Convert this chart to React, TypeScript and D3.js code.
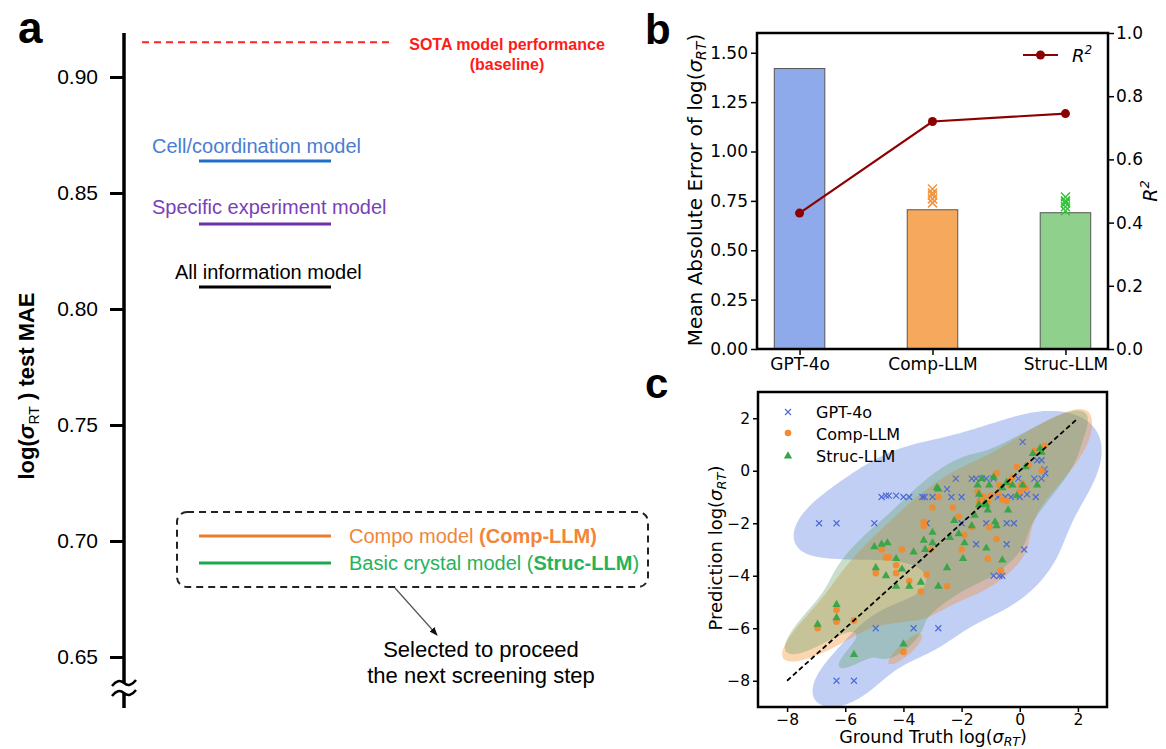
import React, { useEffect, useRef } from 'react';
import * as d3 from 'd3';

// ---- panel a: test MAE of the model variants
const modelNames = ['SOTA model performance', 'Cell/coordination model', 'Specific experiment model', 'All information model', 'Compo model', 'Basic crystal model'];
const modelMae = [0.915, 0.8638, 0.8366, 0.8095, 0.7022, 0.6905];
const aTicks = [0.65, 0.70, 0.75, 0.80, 0.85, 0.90];

// ---- panel b: MAE bars + R2 line
const llmNames = ['GPT-4o', 'Comp-LLM', 'Struc-LLM'];
const maeValues = [1.42, 0.705, 0.69];
const r2Values = [0.43, 0.72, 0.745];
const compRuns = [0.74, 0.76, 0.78, 0.79, 0.81];
const strucRuns = [0.70, 0.72, 0.74, 0.75, 0.77];
const bTicks = [0, 0.25, 0.5, 0.75, 1.0, 1.25, 1.5];
const rTicks = [0, 0.2, 0.4, 0.6, 0.8, 1.0];

// ---- panel c: ground truth vs prediction, [truth, prediction]
const gptPoints = [
  [-6.9, -2], [-6.3, -2], [-5.0, -2],
  [-4.75, -1], [-4.6, -0.95], [-4.5, -0.95], [-4.25, -0.95], [-4.0, -1], [-3.8, -1], [-3.35, -1], [-3.27, -1], [-3.0, -1], [-2.35, -1], [-2.0, -1],
  [-2.5, -0.7], [-2.2, -0.3],
  [-1.65, -0.3], [-1.5, -0.3], [-1.3, -0.3], [-1.15, -0.3], [-0.9, -0.3],
  [-1.35, -1], [-0.75, -1], [-0.5, -1], [-0.3, -1], [0.0, -1], [0.25, -0.9], [0.55, -1],
  [-0.05, -0.3], [0.5, -0.3], [0.75, -0.3],
  [0.1, 1.1], [0.6, 0.4], [0.75, 0.4], [0.85, 0.05], [0.88, -0.1],
  [-3.2, -2], [-2.0, -2], [-1.15, -2], [-0.45, -2], [-0.2, -2],
  [-1.5, -2.8], [-0.45, -2.8], [0.15, -3],
  [-0.9, -4], [-0.7, -4], [-0.6, -4],
  [-4.95, -6], [-3.65, -6], [-2.8, -6],
  [-6.3, -8], [-5.7, -8],
];
const compPoints = [
  [-6.95, -6.0], [-6.3, -5.3], [-6.3, -5.75], [-5.7, -5.7],
  [-4.95, -3.9], [-4.75, -3.0], [-4.6, -3.3], [-4.5, -3.3], [-4.25, -3.9], [-4.25, -3.6], [-4.05, -3.0], [-3.8, -4.2],
  [-3.4, -4.6], [-3.2, -3.95], [-3.3, -1.95], [-3.3, -2.1], [-3.05, -3.0], [-3.0, -1.4], [-2.8, -1.0], [-2.5, -4.4],
  [-2.3, -1.4], [-2.1, -1.75], [-2.0, -3.0], [-1.9, -2.45], [-1.65, -2.15], [-1.45, -0.8], [-1.4, -1.2], [-1.25, -1.0],
  [-1.1, -3.35], [-1.1, -1.2], [-1.05, -2.15], [-0.8, -2.6], [-0.8, -0.1], [-0.7, -0.55], [-0.65, -3.8], [-0.45, -1.15],
  [-0.4, -0.4], [-0.35, -0.55], [-0.25, -0.25], [-0.1, 0.15], [0.0, -0.8], [0.05, -0.55], [0.1, -0.5], [0.2, -0.65],
  [0.3, 0.2], [0.5, 0.75], [0.75, 0.0], [0.85, 0.95], [-4.0, -6.9],
  [-1.0, -0.95], [-0.75, -0.85], [-1.3, -1.1], [-0.6, -1.1],
];
const strucPoints = [
  [-6.95, -5.85], [-6.3, -5.1], [-6.3, -5.6], [-5.7, -7.0], [-5.0, -2.9], [-4.95, -3.7], [-4.75, -2.8], [-4.55, -2.75],
  [-4.6, -4.0], [-4.25, -3.35], [-4.05, -3.75], [-4.25, -4.4], [-3.8, -4.4], [-3.65, -3.1], [-3.4, -4.25], [-3.3, -2.65],
  [-3.25, -3.0], [-3.0, -2.35], [-3.0, -2.75], [-2.85, -0.65], [-2.8, -0.7], [-2.8, -4.4], [-2.5, -3.7], [-2.4, -2.55],
  [-2.25, -1.9], [-2.1, -2.4], [-1.95, -3.35], [-1.9, -2.75], [-1.65, -2.1], [-1.55, -1.7], [-1.4, -0.9], [-1.45, -0.55],
  [-1.4, -1.3], [-1.3, -0.3], [-1.2, -1.25], [-1.15, -1.3], [-1.1, -1.5], [-1.15, -2.95], [-1.05, -0.55], [-0.85, -1.95],
  [-0.8, -2.1], [-0.9, -0.25], [-0.6, -3.4], [-0.6, -0.65], [-0.45, -0.45], [-0.4, -1.5], [-0.25, -0.55], [-0.1, -0.95],
  [0.1, -0.55], [0.2, 0.15], [0.45, 0.65], [0.6, -0.55], [0.7, 0.85], [0.75, 0.7], [-4.0, -6.6],
];
const cTicks = [-8, -6, -4, -2, 0, 2];
const seriesNames = ['GPT-4o', 'Comp-LLM', 'Struc-LLM'];

const W = 1166;
const H = 749;
const ARIAL = 'Liberation Sans, Arial, sans-serif';
const DEJAVU = 'DejaVu Sans, sans-serif';

// panel a
const yA = d3.scaleLinear().domain([0.65, 0.90]).range([657, 77]);
const axisAX = 124;

// panel b
const bBox = { left: 757, right: 1108, top: 33, bottom: 349 };
const xB = d3.scaleLinear().domain([-0.32, 2.32]).range([bBox.left, bBox.right]);
const yB = d3.scaleLinear().domain([0, 1.6]).range([bBox.bottom, bBox.top]);
const yR = d3.scaleLinear().domain([0, 1.0]).range([bBox.bottom, bBox.top]);

// panel c
const cBox = { left: 758, right: 1107, top: 392, bottom: 707 };
const xC = d3.scaleLinear().domain([-9, 3]).range([cBox.left, cBox.right]);
const yC = d3.scaleLinear().domain([-9, 3]).range([cBox.bottom, cBox.top]);

// gaussian kde with the data covariance (scott's rule), one filled level
function kdePath(points, thresh) {
  const n = points.length;
  const mx = d3.mean(points, p => p[0]);
  const my = d3.mean(points, p => p[1]);
  let sxx = 0, syy = 0, sxy = 0;
  points.forEach(p => {
    sxx += (p[0] - mx) ** 2;
    syy += (p[1] - my) ** 2;
    sxy += (p[0] - mx) * (p[1] - my);
  });
  const f2 = Math.pow(n, -1 / 3);
  const a = sxx / (n - 1) * f2, b = sxy / (n - 1) * f2, d = syy / (n - 1) * f2;
  const det = a * d - b * b;
  const ia = d / det, ib = -b / det, id = a / det;

  const cell = 3;
  const nx = Math.ceil((cBox.right - cBox.left) / cell);
  const ny = Math.ceil((cBox.bottom - cBox.top) / cell);
  const values = new Array(nx * ny);
  for (let j = 0; j < ny; j++) {
    const yd = yC.invert(cBox.top + (j + 0.5) * cell);
    for (let i = 0; i < nx; i++) {
      const xd = xC.invert(cBox.left + (i + 0.5) * cell);
      let s = 0;
      for (let k = 0; k < n; k++) {
        const dx = xd - points[k][0], dy = yd - points[k][1];
        s += Math.exp(-0.5 * (dx * dx * ia + 2 * dx * dy * ib + dy * dy * id));
      }
      values[j * nx + i] = s;
    }
  }
  const sorted = values.slice().sort((p, q) => q - p);
  const total = d3.sum(sorted);
  let acc = 0, level = sorted[sorted.length - 1];
  for (const v of sorted) {
    acc += v;
    if (acc >= (1 - thresh) * total) { level = v; break; }
  }
  const contour = d3.contours().size([nx, ny]).thresholds([level])(values)[0];
  const geom = {
    type: 'MultiPolygon',
    coordinates: contour.coordinates.map(poly => poly.map(ring => ring.map(([gx, gy]) => [cBox.left + gx * cell, cBox.top + gy * cell]))),
  };
  return d3.geoPath()(geom);
}

const crossPath = s => `M${-s},${-s}L${s},${s}M${-s},${s}L${s},${-s}`;
const triangle = d3.symbol(d3.symbolTriangle, 30)();

const App = () => {
  const axisARef = useRef(null);
  const bLeftRef = useRef(null);
  const bRightRef = useRef(null);
  const bBottomRef = useRef(null);
  const cLeftRef = useRef(null);
  const cBottomRef = useRef(null);

  const gptKde = kdePath(gptPoints, 0.07);
  const compKde = kdePath(compPoints, 0.06);
  const strucKde = kdePath(strucPoints, 0.06);

  const r2Line = d3.line().x((d, i) => xB(i)).y(d => yR(d));

  useEffect(() => {
    const style = (sel, size, family, width) => {
      sel.attr('font-size', size).attr('font-family', family);
      sel.select('.domain').remove();
      sel.selectAll('.tick line').attr('stroke-width', width).attr('stroke', '#000');
      sel.selectAll('.tick text').attr('fill', '#000');
    };

    const aAxis = d3.select(axisARef.current)
      .call(d3.axisLeft(yA).tickValues(aTicks).tickSize(14).tickPadding(12).tickFormat(d3.format('.2f')));
    style(aAxis, 21, ARIAL, 3);

    const bl = d3.select(bLeftRef.current)
      .call(d3.axisLeft(yB).tickValues(bTicks).tickSize(6).tickPadding(3).tickFormat(d3.format('.2f')));
    style(bl, 17, DEJAVU, 1.5);
    const br = d3.select(bRightRef.current)
      .call(d3.axisRight(yR).tickValues(rTicks).tickSize(6).tickPadding(2).tickFormat(d3.format('.1f')));
    style(br, 17, DEJAVU, 1.5);
    const bb = d3.select(bBottomRef.current)
      .call(d3.axisBottom(xB).tickValues([0, 1, 2]).tickSize(6).tickPadding(3).tickFormat(i => llmNames[i]));
    style(bb, 17, DEJAVU, 1.5);

    const cl = d3.select(cLeftRef.current)
      .call(d3.axisLeft(yC).tickValues(cTicks).tickSize(5).tickPadding(3));
    style(cl, 15.5, DEJAVU, 1.5);
    const cb = d3.select(cBottomRef.current)
      .call(d3.axisBottom(xC).tickValues(cTicks).tickSize(5).tickPadding(2));
    style(cb, 15.5, DEJAVU, 1.5);
  }, []);

  const bx = (i, w) => xB(i) - (xB(w / 2) - xB(0));
  const barW = xB(0.38) - xB(0);
  const barFill = ['#8eaaea', '#f6a95c', '#8fd08c'];

  return (
    <svg width={W} height={H} style={{ position: 'absolute', left: 0, top: 0, background: '#fff' }}>
      {/* ---------------- panel a ---------------- */}
      <text x={18} y={43} fontFamily={ARIAL} fontWeight="bold" fontSize={44}>a</text>
      <line x1={axisAX} x2={axisAX} y1={33} y2={683} stroke="#000" strokeWidth={3.5} />
      <line x1={axisAX} x2={axisAX} y1={693} y2={708} stroke="#000" strokeWidth={3.5} />
      {[683, 693].map(y => (
        <path key={y} d={`M112,${y + 3} Q118,${y - 5} ${axisAX},${y} T136,${y - 3}`} fill="none" stroke="#000" strokeWidth={2.5} />
      ))}
      <g ref={axisARef} transform={`translate(${axisAX},0)`} />
      <text transform="translate(34,386) rotate(-90)" textAnchor="middle" fontFamily={ARIAL} fontWeight="bold" fontSize={22}>
        log(<tspan fontStyle="italic">σ</tspan><tspan fontSize={14} dy={5} fontWeight="normal">RT</tspan><tspan dy={-5}> ) test MAE</tspan>
      </text>

      <line x1={142} x2={390} y1={yA(modelMae[0])} y2={yA(modelMae[0])} stroke="#ff2424" strokeWidth={2} strokeDasharray="7,5" />
      <text x={507} y={50} textAnchor="middle" fill="#ff1a1a" fontFamily={ARIAL} fontWeight="bold" fontSize={16}>{modelNames[0]}</text>
      <text x={507} y={70} textAnchor="middle" fill="#ff1a1a" fontFamily={ARIAL} fontWeight="bold" fontSize={16}>(baseline)</text>

      <line x1={199} x2={331} y1={yA(modelMae[1])} y2={yA(modelMae[1])} stroke="#1f6fc6" strokeWidth={3} />
      <text x={152} y={yA(modelMae[1]) - 8} fill="#4a7dd1" fontFamily={ARIAL} fontSize={20}>{modelNames[1]}</text>
      <line x1={199} x2={331} y1={yA(modelMae[2])} y2={yA(modelMae[2])} stroke="#7030a8" strokeWidth={3} />
      <text x={152} y={yA(modelMae[2]) - 10} fill="#7a3fb8" fontFamily={ARIAL} fontSize={20}>{modelNames[2]}</text>
      <line x1={199} x2={331} y1={yA(modelMae[3])} y2={yA(modelMae[3])} stroke="#000" strokeWidth={3} />
      <text x={175} y={yA(modelMae[3]) - 8} fill="#000" fontFamily={ARIAL} fontSize={20}>{modelNames[3]}</text>

      <rect x={177} y={512} width={471} height={75} rx={10} fill="none" stroke="#222" strokeWidth={2} strokeDasharray="7,5" />
      <line x1={199} x2={331} y1={yA(modelMae[4])} y2={yA(modelMae[4])} stroke="#f07d2c" strokeWidth={3} />
      <text x={349} y={yA(modelMae[4]) + 7} fill="#f0863a" fontFamily={ARIAL} fontSize={20}>
        {modelNames[4]} <tspan fontWeight="bold">(Comp-LLM)</tspan>
      </text>
      <line x1={199} x2={331} y1={yA(modelMae[5])} y2={yA(modelMae[5])} stroke="#1aa84e" strokeWidth={3} />
      <text x={349} y={yA(modelMae[5]) + 7} fill="#27b25a" fontFamily={ARIAL} fontSize={20}>
        {modelNames[5]} (<tspan fontWeight="bold">Struc-LLM</tspan>)
      </text>

      <defs>
        <marker id="arr" viewBox="0 0 10 10" refX={9} refY={5} markerWidth={7} markerHeight={7} orient="auto">
          <path d="M0,1L10,5L0,9z" fill="#111" />
        </marker>
      </defs>
      <line x1={395} y1={588} x2={437} y2={635} stroke="#555" strokeWidth={1.2} markerEnd="url(#arr)" />
      <text x={481} y={657} textAnchor="middle" fontFamily={ARIAL} fontSize={22}>Selected to proceed</text>
      <text x={481} y={683} textAnchor="middle" fontFamily={ARIAL} fontSize={22}>the next screening step</text>

      {/* ---------------- panel b ---------------- */}
      <text x={645} y={44} fontFamily={ARIAL} fontWeight="bold" fontSize={42}>b</text>
      {maeValues.map((v, i) => (
        <rect key={i} x={bx(i, 0.38)} y={yB(v)} width={barW} height={yB(0) - yB(v)} fill={barFill[i]} stroke="#555" strokeWidth={1} />
      ))}
      {compRuns.map((v, k) => (
        <path key={'c' + k} d={crossPath(4.5)} transform={`translate(${xB(1)},${yB(v)})`} stroke="#f4923a" strokeWidth={1.5} fill="none" />
      ))}
      {strucRuns.map((v, k) => (
        <path key={'s' + k} d={crossPath(4.5)} transform={`translate(${xB(2)},${yB(v)})`} stroke="#35c23a" strokeWidth={1.5} fill="none" />
      ))}
      <path d={r2Line(r2Values)} fill="none" stroke="#8b0000" strokeWidth={2.2} />
      {r2Values.map((v, i) => <circle key={i} cx={xB(i)} cy={yR(v)} r={4.5} fill="#8b0000" />)}
      <rect x={bBox.left} y={bBox.top} width={bBox.right - bBox.left} height={bBox.bottom - bBox.top} fill="none" stroke="#000" strokeWidth={2.5} />
      <g ref={bLeftRef} transform={`translate(${bBox.left},0)`} />
      <g ref={bRightRef} transform={`translate(${bBox.right},0)`} />
      <g ref={bBottomRef} transform={`translate(0,${bBox.bottom})`} />
      <line x1={1023} x2={1058} y1={55} y2={55} stroke="#8b0000" strokeWidth={2.2} />
      <circle cx={1040.5} cy={55} r={4.5} fill="#8b0000" />
      <text x={1072} y={62} fontFamily={DEJAVU} fontStyle="italic" fontSize={18}>R<tspan fontSize={12} dy={-8}>2</tspan></text>
      <text transform="translate(702,190) rotate(-90)" textAnchor="middle" fontFamily={DEJAVU} fontSize={20}>
        Mean Absolute Error of log(<tspan fontStyle="italic">σ</tspan><tspan fontStyle="italic" fontSize={14} dy={4}>RT</tspan><tspan dy={-4}>)</tspan>
      </text>
      <text transform="translate(1157,191) rotate(-90)" textAnchor="middle" fontFamily={DEJAVU} fontStyle="italic" fontSize={19}>
        R<tspan fontSize={13} dy={-8}>2</tspan>
      </text>

      {/* ---------------- panel c ---------------- */}
      <text x={645} y={398} fontFamily={ARIAL} fontWeight="bold" fontSize={42}>c</text>
      <defs>
        <clipPath id="clipc">
          <rect x={cBox.left} y={cBox.top} width={cBox.right - cBox.left} height={cBox.bottom - cBox.top} />
        </clipPath>
      </defs>
      <g clipPath="url(#clipc)">
        <path d={gptKde} fill="#4169e1" fillOpacity={0.32} />
        <path d={compKde} fill="#f28e2b" fillOpacity={0.36} />
        <path d={strucKde} fill="#5a9e5e" fillOpacity={0.33} />
        {gptPoints.map((p, k) => (
          <path key={'g' + k} d={crossPath(3)} transform={`translate(${xC(p[0])},${yC(p[1])})`} stroke="#4a68d8" strokeWidth={1.1} fill="none" />
        ))}
        {compPoints.map((p, k) => (
          <circle key={'o' + k} cx={xC(p[0])} cy={yC(p[1])} r={3.3} fill="#f28a2e" fillOpacity={0.95} />
        ))}
        {strucPoints.map((p, k) => (
          <path key={'t' + k} d={triangle} transform={`translate(${xC(p[0])},${yC(p[1])})`} fill="#35a447" fillOpacity={0.95} />
        ))}
        <line x1={xC(-8)} y1={yC(-8)} x2={xC(2)} y2={yC(2)} stroke="#000" strokeWidth={1.8} strokeDasharray="5,3" />
      </g>
      <rect x={cBox.left} y={cBox.top} width={cBox.right - cBox.left} height={cBox.bottom - cBox.top} fill="none" stroke="#000" strokeWidth={2.5} />
      <g ref={cLeftRef} transform={`translate(${cBox.left},0)`} />
      <g ref={cBottomRef} transform={`translate(0,${cBox.bottom})`} />

      <path d={crossPath(3)} transform="translate(788,412)" stroke="#4a68d8" strokeWidth={1.1} fill="none" />
      <circle cx={788} cy={433} r={3.3} fill="#f28a2e" />
      <path d={triangle} transform="translate(788,456)" fill="#35a447" />
      {seriesNames.map((s, i) => (
        <text key={s} x={816} y={[412, 434, 456][i] + 6} fontFamily={DEJAVU} fontSize={16}>{s}</text>
      ))}
      <text transform="translate(722,548) rotate(-90)" textAnchor="middle" fontFamily={DEJAVU} fontSize={18}>
        Prediction log(<tspan fontStyle="italic">σ</tspan><tspan fontStyle="italic" fontSize={13} dy={4}>RT</tspan><tspan dy={-4}>)</tspan>
      </text>
      <text x={933} y={743} textAnchor="middle" fontFamily={DEJAVU} fontSize={17.5}>
        Ground Truth log(<tspan fontStyle="italic">σ</tspan><tspan fontStyle="italic" fontSize={12.5} dy={3}>RT</tspan><tspan dy={-3}>)</tspan>
      </text>
    </svg>
  );
};

export default App;
